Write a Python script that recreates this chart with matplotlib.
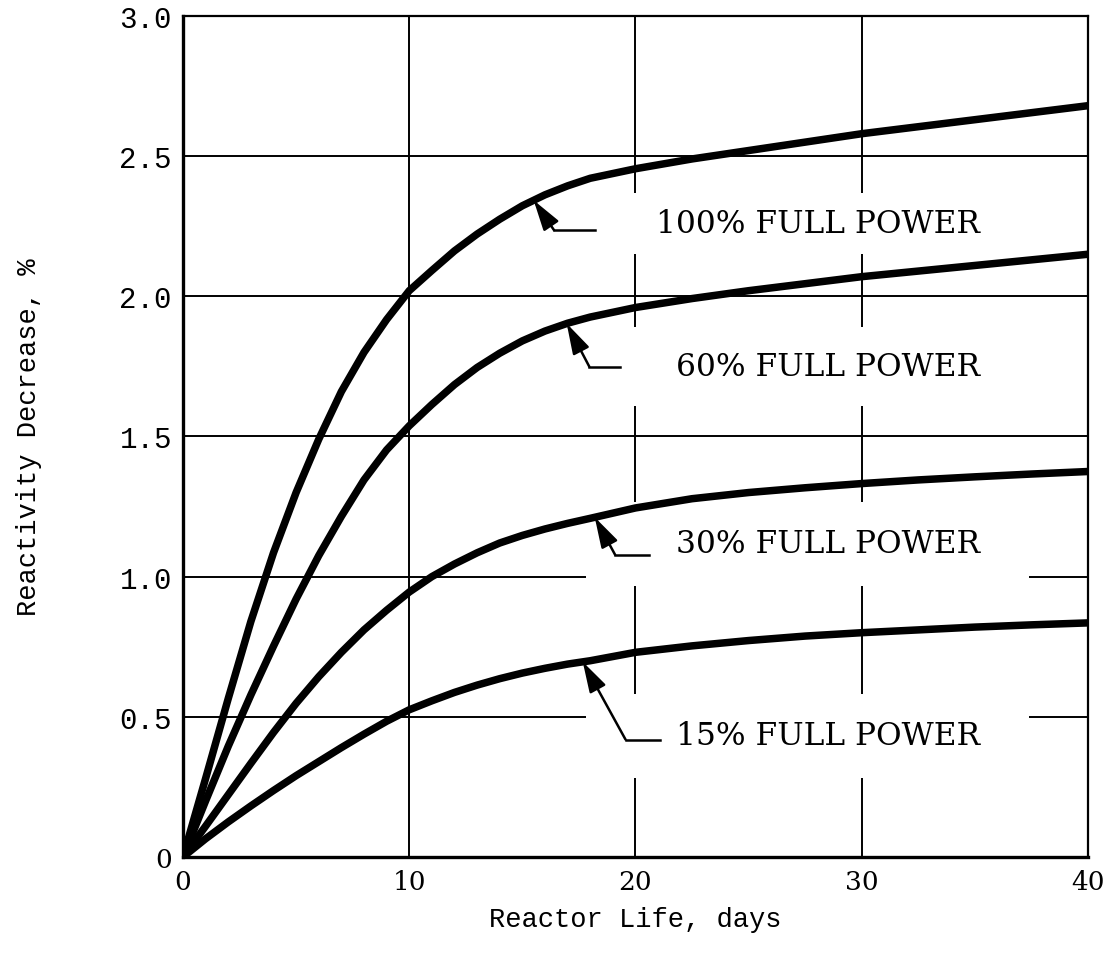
import numpy as np
import matplotlib
matplotlib.use("Agg")
import matplotlib.pyplot as plt
from matplotlib.patches import Rectangle

# reactor life, days
days = [0, 1, 2, 3, 4, 5, 6, 7, 8, 9, 10, 11, 12, 13, 14, 15, 16, 17, 18,
        20, 22.5, 25, 27.5, 30, 32.5, 35, 37.5, 40]

# reactivity decrease, %
p100 = [0, 0.28, 0.565, 0.84, 1.085, 1.30, 1.49, 1.66, 1.80, 1.917, 2.02, 2.092,
        2.162, 2.222, 2.275, 2.323, 2.362, 2.394, 2.421,
        2.455, 2.49, 2.52, 2.55, 2.58, 2.605, 2.63, 2.655, 2.68]
p60 = [0, 0.20, 0.395, 0.578, 0.752, 0.92, 1.075, 1.215, 1.345, 1.452, 1.538, 1.614,
       1.685, 1.746, 1.797, 1.841, 1.876, 1.904, 1.926,
       1.96, 1.992, 2.02, 2.045, 2.07, 2.09, 2.11, 2.13, 2.15]
p30 = [0, 0.11, 0.222, 0.334, 0.444, 0.548, 0.643, 0.73, 0.81, 0.88, 0.945, 1.0,
       1.045, 1.085, 1.12, 1.147, 1.17, 1.19, 1.208,
       1.245, 1.278, 1.30, 1.317, 1.332, 1.345, 1.356, 1.366, 1.375]
p15 = [0, 0.065, 0.125, 0.182, 0.237, 0.29, 0.34, 0.39, 0.438, 0.484, 0.525, 0.557,
       0.587, 0.613, 0.636, 0.656, 0.673, 0.688, 0.70,
       0.73, 0.753, 0.772, 0.788, 0.80, 0.81, 0.82, 0.828, 0.835]

series = [p100, p60, p30, p15]
labels = ["100% FULL POWER", "60% FULL POWER", "30% FULL POWER", "15% FULL POWER"]

# label placement: text centre y, arrow tip x, arrow bend (x, y), leader end x
label_y = [2.26, 1.75, 1.118, 0.433]
tip_x = [15.5, 16.96, 18.2, 17.67]
bend_x = [16.4, 17.96, 19.1, 19.56]
bend_y = [2.236, 1.749, 1.078, 0.419]
lead_end = [18.2, 19.3, 20.6, 21.1]

xticks = [0, 10, 20, 30, 40]
yticks = [0, 0.5, 1.0, 1.5, 2.0, 2.5, 3.0]
ytick_labels = ["0", "0.5", "1.0", "1.5", "2.0", "2.5", "3.0"]

fig = plt.figure(figsize=(11.07, 9.70), dpi=100)
ax = fig.add_axes([0.1653, 0.1155, 0.8175, 0.867])

ax.set_xlim(0, 40)
ax.set_ylim(0, 3.0)

# grid
for xv in xticks[1:-1]:
    ax.axvline(xv, color="black", lw=1.4, zorder=1)
for yv in yticks[1:-1]:
    ax.axhline(yv, color="black", lw=1.4, zorder=1)

# curves
for s in series:
    ax.plot(days, s, color="black", lw=5.4, solid_capstyle="round",
            solid_joinstyle="round", zorder=4)

# labels with white masks over the grid
half_h = [0.11, 0.14, 0.15, 0.15]
for i, lab in enumerate(labels):
    ax.add_patch(Rectangle((17.8, label_y[i] - half_h[i]), 19.6, 2 * half_h[i],
                           facecolor="white", edgecolor="none", zorder=2))
    ax.text(35.25, label_y[i], lab, ha="right", va="center",
            fontfamily="DejaVu Serif", fontsize=22.5, zorder=5)
    ty = np.interp(tip_x[i], days, series[i])
    ax.plot([lead_end[i], bend_x[i]], [bend_y[i], bend_y[i]],
            color="black", lw=1.8, zorder=5)
    ax.annotate("", xy=(tip_x[i], ty), xytext=(bend_x[i], bend_y[i]),
                arrowprops=dict(arrowstyle="-|>,head_length=0.85,head_width=0.25",
                                color="black", lw=1.8, mutation_scale=22,
                                shrinkA=0, shrinkB=0),
                zorder=5)

ax.set_xticks(xticks)
ax.set_xticklabels([str(v) for v in xticks], fontfamily="DejaVu Serif", fontsize=19)
ax.set_yticks(yticks)
ax.set_yticklabels(ytick_labels, fontfamily="Liberation Mono", fontsize=21)
ax.get_yticklabels()[0].set_fontfamily("DejaVu Serif")
ax.get_yticklabels()[0].set_fontsize(19)
ax.tick_params(axis="both", length=0)
ax.tick_params(axis="x", pad=9)
ax.tick_params(axis="y", pad=8)

for side in ["left", "bottom"]:
    ax.spines[side].set_linewidth(2.4)
for side in ["top", "right"]:
    ax.spines[side].set_linewidth(1.6)

ax.set_xlabel("Reactor Life, days", fontfamily="Liberation Mono", fontsize=19.5, labelpad=8)
ax.set_ylabel("Reactivity Decrease, %", fontfamily="Liberation Mono", fontsize=19.5, labelpad=56)

fig.savefig("out.png", dpi=100)
